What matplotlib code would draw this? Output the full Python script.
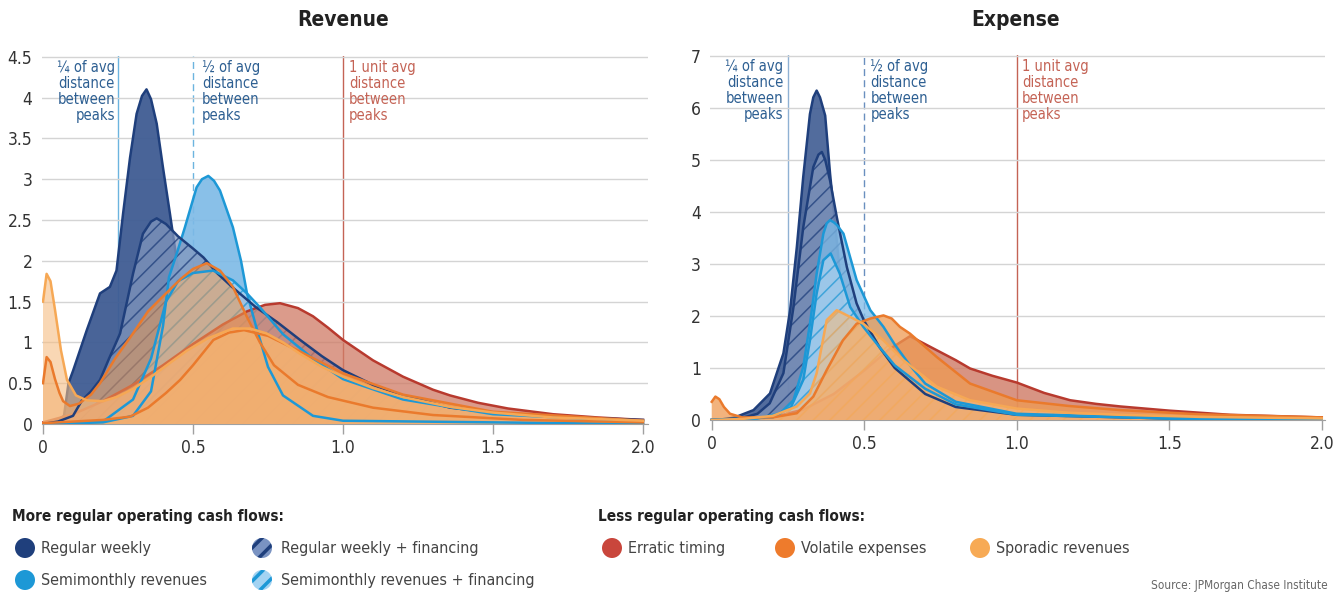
import matplotlib.pyplot as plt
from matplotlib import font_manager
from matplotlib.patches import Circle

# narrow font like the original; pick what is installed
_fonts = {(f.name, f.stretch) for f in font_manager.fontManager.ttflist}
_names = {n for n, s in _fonts}
if 'Liberation Sans Narrow' in _names:
    plt.rcParams['font.family'] = ['Liberation Sans Narrow', 'DejaVu Sans']
elif any(n == 'DejaVu Sans' and s == 'condensed' for n, s in _fonts):
    plt.rcParams['font.family'] = ['DejaVu Sans']
    plt.rcParams['font.stretch'] = 'condensed'
else:
    plt.rcParams['font.family'] = ['Roboto', 'DejaVu Sans']
plt.rcParams['hatch.linewidth'] = 1.1

# ---------------- Revenue panel ----------------
rev_weekly_x = [0.0, 0.04, 0.07, 0.085, 0.10, 0.146, 0.19, 0.223, 0.245, 0.267, 0.29, 0.312, 0.33,
                0.345, 0.36, 0.379, 0.40, 0.423, 0.45, 0.48, 0.52, 0.58, 0.65, 0.8, 1.0, 2.0]
rev_weekly_y = [0.0, 0.03, 0.1, 0.5, 0.65, 1.15, 1.6, 1.68, 1.88, 2.58, 3.26, 3.8, 4.02,
                4.1, 3.98, 3.68, 3.14, 2.58, 1.9, 1.25, 0.7, 0.35, 0.15, 0.05, 0.02, 0.0]

rev_weekly_fin_x = [0.0, 0.05, 0.1, 0.13, 0.16, 0.19, 0.22, 0.257, 0.28, 0.30, 0.333, 0.36, 0.379,
                    0.41, 0.45, 0.5, 0.535, 0.58, 0.63, 0.71, 0.78, 0.857, 0.93, 1.0, 1.1, 1.2,
                    1.357, 1.5, 1.7, 2.0]
rev_weekly_fin_y = [0.0, 0.03, 0.1, 0.29, 0.4, 0.54, 0.8, 1.11, 1.5, 1.84, 2.33, 2.48, 2.52,
                    2.45, 2.3, 2.15, 2.04, 1.85, 1.68, 1.43, 1.25, 1.03, 0.83, 0.66, 0.48, 0.35,
                    0.2, 0.14, 0.09, 0.05]

rev_semi_x = [0.0, 0.2, 0.3, 0.36, 0.40, 0.42, 0.446, 0.473, 0.512, 0.53, 0.551, 0.57, 0.59, 0.633,
              0.66, 0.68, 0.71, 0.75, 0.8, 0.9, 1.0, 2.0]
rev_semi_y = [0.0, 0.02, 0.1, 0.4, 1.2, 1.8, 2.09, 2.41, 2.9, 3.0, 3.04, 2.98, 2.86, 2.41,
              2.0, 1.6, 1.2, 0.7, 0.35, 0.1, 0.04, 0.0]

rev_semi_fin_x = [0.0, 0.2, 0.3, 0.36, 0.41, 0.45, 0.5, 0.567, 0.633, 0.68, 0.723, 0.8, 0.9, 1.0,
                  1.2, 1.5, 2.0]
rev_semi_fin_y = [0.0, 0.03, 0.3, 0.8, 1.5, 1.75, 1.85, 1.88, 1.76, 1.6, 1.43, 1.1, 0.8, 0.55,
                  0.3, 0.12, 0.03]

rev_erratic_x = [0.0, 0.1, 0.2, 0.3, 0.4, 0.5, 0.6, 0.68, 0.74, 0.79, 0.85, 0.9, 0.95, 1.0, 1.1,
                 1.2, 1.3, 1.357, 1.45, 1.55, 1.7, 1.85, 2.0]
rev_erratic_y = [0.02, 0.12, 0.28, 0.48, 0.72, 0.98, 1.22, 1.38, 1.46, 1.48, 1.42, 1.32, 1.18, 1.03,
                 0.78, 0.58, 0.42, 0.35, 0.26, 0.19, 0.12, 0.08, 0.05]

rev_volatile_x = [0.0, 0.012, 0.025, 0.04, 0.055, 0.067, 0.09, 0.12, 0.16, 0.19, 0.24, 0.3, 0.35,
                  0.41, 0.46, 0.5, 0.546, 0.59, 0.633, 0.68, 0.723, 0.77, 0.85, 0.95, 1.1, 1.3,
                  1.6, 2.0]
rev_volatile_y = [0.5, 0.82, 0.76, 0.55, 0.38, 0.28, 0.22, 0.25, 0.36, 0.5, 0.8, 1.11, 1.38,
                  1.6, 1.78, 1.9, 1.97, 1.88, 1.68, 1.31, 1.0, 0.72, 0.48, 0.33, 0.2, 0.11,
                  0.05, 0.02]

rev_sporadic_x = [0.0, 0.012, 0.025, 0.04, 0.06, 0.08, 0.11, 0.146, 0.2, 0.245, 0.3, 0.357, 0.42,
                  0.48, 0.55, 0.633, 0.69, 0.745, 0.8, 0.857, 0.93, 1.0, 1.1, 1.2, 1.357, 1.5,
                  1.7, 2.0]
rev_sporadic_y = [1.5, 1.84, 1.75, 1.4, 0.9, 0.54, 0.35, 0.29, 0.28, 0.33, 0.43, 0.57, 0.74,
                  0.9, 1.05, 1.17, 1.17, 1.11, 1.0, 0.86, 0.7, 0.58, 0.44, 0.33, 0.21, 0.14,
                  0.08, 0.04]

# unlabelled orange band at the bottom of the revenue panel
rev_orange_base_x = [0.0, 0.1, 0.2, 0.29, 0.35, 0.41, 0.457, 0.5, 0.568, 0.62, 0.67, 0.75, 0.85,
                     1.0, 1.2, 1.5, 2.0]
rev_orange_base_y = [0.01, 0.03, 0.05, 0.09, 0.2, 0.38, 0.54, 0.72, 1.03, 1.12, 1.15, 1.08, 0.9,
                     0.62, 0.36, 0.15, 0.04]

# ---------------- Expense panel ----------------
exp_weekly_x = [0.0, 0.05, 0.08, 0.137, 0.191, 0.235, 0.257, 0.279, 0.30, 0.322, 0.333, 0.344,
                0.355, 0.372, 0.388, 0.41, 0.43, 0.46, 0.5, 0.55, 0.62, 0.7, 0.85, 1.0, 2.0]
exp_weekly_y = [0.0, 0.02, 0.06, 0.19, 0.51, 1.28, 2.11, 3.32, 4.67, 5.88, 6.2, 6.33,
                6.2, 5.85, 4.73, 3.45, 2.17, 1.4, 0.8, 0.45, 0.22, 0.1, 0.04, 0.02, 0.0]

exp_weekly_fin_x = [0.0, 0.1, 0.15, 0.19, 0.235, 0.268, 0.30, 0.333, 0.35, 0.361, 0.372, 0.388,
                    0.41, 0.443, 0.475, 0.5, 0.55, 0.6, 0.7, 0.8, 1.0, 1.5, 2.0]
exp_weekly_fin_y = [0.0, 0.04, 0.12, 0.32, 0.9, 2.17, 3.7, 4.86, 5.1, 5.15, 5.0, 4.6,
                    3.9, 2.94, 2.24, 1.9, 1.4, 1.0, 0.5, 0.25, 0.1, 0.03, 0.01]

exp_semi_x = [0.0, 0.15, 0.224, 0.268, 0.30, 0.322, 0.344, 0.366, 0.377, 0.388, 0.40, 0.41, 0.432,
              0.475, 0.52, 0.563, 0.6, 0.65, 0.7, 0.8, 1.0, 1.5, 2.0]
exp_semi_y = [0.0, 0.03, 0.13, 0.38, 1.02, 1.85, 2.81, 3.58, 3.78, 3.84, 3.8, 3.75, 3.58,
              2.69, 2.11, 1.79, 1.45, 1.05, 0.7, 0.35, 0.12, 0.03, 0.01]

exp_semi_fin_x = [0.0, 0.2, 0.26, 0.30, 0.322, 0.344, 0.366, 0.39, 0.42, 0.454, 0.497, 0.55, 0.6,
                  0.7, 0.8, 1.0, 1.5, 2.0]
exp_semi_fin_y = [0.0, 0.05, 0.25, 0.77, 1.53, 2.43, 3.07, 3.2, 2.81, 2.17, 1.79, 1.4, 1.05,
                  0.6, 0.3, 0.1, 0.03, 0.01]

exp_erratic_x = [0.0, 0.1, 0.2, 0.3, 0.4, 0.5, 0.58, 0.65, 0.738, 0.8, 0.847, 0.92, 1.0, 1.09,
                 1.175, 1.26, 1.34, 1.5, 1.7, 2.0]
exp_erratic_y = [0.0, 0.01, 0.05, 0.2, 0.5, 0.95, 1.35, 1.61, 1.34, 1.15, 0.99, 0.85, 0.72, 0.52,
                 0.38, 0.31, 0.26, 0.18, 0.1, 0.05]

exp_volatile_x = [0.0, 0.012, 0.025, 0.04, 0.06, 0.1, 0.2, 0.279, 0.333, 0.377, 0.43, 0.475, 0.52,
                  0.563, 0.59, 0.617, 0.65, 0.738, 0.847, 1.0, 1.17, 1.34, 1.6, 2.0]
exp_volatile_y = [0.35, 0.45, 0.4, 0.25, 0.12, 0.05, 0.05, 0.13, 0.45, 0.96, 1.53, 1.85, 1.95,
                  2.01, 1.95, 1.79, 1.66, 1.21, 0.7, 0.38, 0.27, 0.19, 0.11, 0.05]

exp_sporadic_x = [0.0, 0.1, 0.2, 0.279, 0.322, 0.344, 0.377, 0.41, 0.454, 0.497, 0.563, 0.628,
                  0.738, 0.847, 1.0, 1.17, 1.34, 1.6, 2.0]
exp_sporadic_y = [0.0, 0.02, 0.08, 0.26, 0.51, 0.9, 1.92, 2.11, 1.98, 1.85, 1.53, 1.15,
                  0.64, 0.38, 0.22, 0.14, 0.1, 0.06, 0.03]

x_ticks = [0, 0.5, 1.0, 1.5, 2.0]
x_tick_labels = ['0', '0.5', '1.0', '1.5', '2.0']
rev_y_ticks = [0, 0.5, 1, 1.5, 2, 2.5, 3, 3.5, 4, 4.5]
rev_y_labels = ['0', '0.5', '1', '1.5', '2', '2.5', '3', '3.5', '4', '4.5']
exp_y_ticks = [0, 1, 2, 3, 4, 5, 6, 7]
exp_y_labels = ['0', '1', '2', '3', '4', '5', '6', '7']
marker_x = [0.25, 0.5, 1.0]
marker_texts = ['\u00bc of avg\ndistance\nbetween\npeaks',
                '\u00bd of avg\ndistance\nbetween\npeaks',
                '1 unit avg\ndistance\nbetween\npeaks']

# colours
NAVY = '#1f3f7c'
NAVY_FILL = '#3f5c93'
NAVY_HATCH_FILL = '#8196bd'
BLUE = '#1d98d6'
BLUE_FILL = '#7cb9e6'
BLUE_HATCH_FILL = '#abd3f0'
RED = '#b83a2e'
RED_FILL = '#cf7a64'
ORANGE = '#ea7a2c'
ORANGE_FILL = '#ee9a52'
LORANGE = '#f6a855'
LORANGE_FILL = '#f6bd82'
GRID = '#d4d4d4'


def draw_curve(ax, x, y, face, edge, z, hatch=None, alpha=0.85, lw=1.8, line_low=False):
    if hatch:
        ax.fill_between(x, y, 0, facecolor=face, edgecolor=edge, hatch=hatch,
                        linewidth=0, alpha=alpha, zorder=z)
    else:
        ax.fill_between(x, y, 0, facecolor=face, linewidth=0, alpha=alpha, zorder=z)
    # some outlines sit under the later fills, as in the original
    lz = z + 0.5 if line_low else z + 20
    ax.plot(x, y, color=edge, lw=lw, zorder=lz, solid_joinstyle='round')


def style_axes(ax, yticks, ylabels, xmax):
    ax.set_xlim(-0.005, xmax)
    ax.set_ylim(0, yticks[-1] * 1.002)
    ax.set_xticks(x_ticks)
    ax.set_xticklabels(x_tick_labels)
    ax.set_yticks(yticks)
    ax.set_yticklabels(ylabels)
    ax.grid(axis='y', color=GRID, lw=1)
    ax.set_axisbelow(True)
    for s in ['top', 'right', 'left']:
        ax.spines[s].set_visible(False)
    ax.spines['bottom'].set_color('#a0a0a0')
    ax.tick_params(axis='y', length=0, pad=6.5, labelsize=12.5, labelcolor='#333333')
    ax.tick_params(axis='x', length=7, width=1, color='#a0a0a0', pad=4, labelsize=12.5,
                   labelcolor='#333333')


def draw_markers(ax, ytop, colors, dashed, offsets):
    for i, xv in enumerate(marker_x):
        ax.axvline(xv, color=colors[i], lw=1, ls=(0, (5, 3)) if dashed[i] else '-', zorder=0.5)
        ha = 'right' if i == 0 else 'left'
        ax.text(xv + offsets[i], ytop, marker_texts[i], ha=ha, va='top', fontsize=10.5,
                color=colors[i] if i == 2 else '#2d5f92', linespacing=1.08, zorder=0.6)


fig = plt.figure(figsize=(13.44, 5.93), dpi=100)

# ---- Revenue ----
ax1 = fig.add_axes([41.5 / 1344, 169 / 593, 606 / 1344, 368 / 593])
draw_curve(ax1, rev_weekly_x, rev_weekly_y, NAVY_FILL, NAVY, 1, alpha=0.95, line_low=True)
draw_curve(ax1, rev_semi_x, rev_semi_y, BLUE_FILL, BLUE, 2, alpha=0.9)
draw_curve(ax1, rev_weekly_fin_x, rev_weekly_fin_y, NAVY_HATCH_FILL, NAVY, 3, hatch='//', alpha=0.75)
draw_curve(ax1, rev_semi_fin_x, rev_semi_fin_y, BLUE_HATCH_FILL, BLUE, 4, hatch='//', alpha=0.7)
draw_curve(ax1, rev_erratic_x, rev_erratic_y, RED_FILL, RED, 5, alpha=0.75, line_low=True)
draw_curve(ax1, rev_orange_base_x, rev_orange_base_y, ORANGE_FILL, ORANGE, 6, alpha=0.8)
draw_curve(ax1, rev_volatile_x, rev_volatile_y, ORANGE_FILL, ORANGE, 7, alpha=0.55)
draw_curve(ax1, rev_sporadic_x, rev_sporadic_y, LORANGE_FILL, LORANGE, 8, alpha=0.6)
style_axes(ax1, rev_y_ticks, rev_y_labels, 2.015)
draw_markers(ax1, 4.46, ['#6cb4df', '#6cb4df', '#c46355'], [False, True, False], [-0.01, 0.03, 0.02])

# ---- Expense ----
ax2 = fig.add_axes([710.2 / 1344, 173 / 593, 614.6 / 1344, 365 / 593])
draw_curve(ax2, exp_weekly_x, exp_weekly_y, NAVY_FILL, NAVY, 1, alpha=0.9, line_low=True)
draw_curve(ax2, exp_weekly_fin_x, exp_weekly_fin_y, NAVY_HATCH_FILL, NAVY, 2, hatch='//', alpha=0.75)
draw_curve(ax2, exp_semi_x, exp_semi_y, BLUE_FILL, BLUE, 3, alpha=0.75)
draw_curve(ax2, exp_semi_fin_x, exp_semi_fin_y, BLUE_HATCH_FILL, BLUE, 4, hatch='//', alpha=0.7)
draw_curve(ax2, exp_erratic_x, exp_erratic_y, RED_FILL, RED, 5, alpha=0.8, line_low=True)
draw_curve(ax2, exp_volatile_x, exp_volatile_y, ORANGE_FILL, ORANGE, 6, alpha=0.75)
draw_curve(ax2, exp_sporadic_x, exp_sporadic_y, LORANGE_FILL, LORANGE, 7, hatch='//', alpha=0.6)
style_axes(ax2, exp_y_ticks, exp_y_labels, 2.01)
draw_markers(ax2, 6.93, ['#8fb1d3', '#6a8fbf', '#c46355'], [False, True, False], [-0.015, 0.02, 0.017])

# ---- titles, legend, source (pixel coordinates overlay) ----
ov = fig.add_axes([0, 0, 1, 1])
ov.set_xlim(0, 1344)
ov.set_ylim(593, 0)
ov.axis('off')

ov.text(343, 20, 'Revenue', ha='center', va='center', fontsize=15, weight='bold', color='#222222')
ov.text(1016, 20, 'Expense', ha='center', va='center', fontsize=15, weight='bold', color='#222222')

ov.text(12, 517, 'More regular operating cash flows:', ha='left', va='center', fontsize=11,
        weight='bold', color='#222222')
ov.text(598, 517, 'Less regular operating cash flows:', ha='left', va='center', fontsize=11,
        weight='bold', color='#222222')

legend_items = [
    (25, 548, 'Regular weekly', NAVY, None, None),
    (25, 580, 'Semimonthly revenues', BLUE, None, None),
    (262, 548, 'Regular weekly + financing', '#7a93c2', NAVY, '//'),
    (262, 580, 'Semimonthly revenues + financing', '#a3d3f2', BLUE, '//'),
    (612, 548, 'Erratic timing', '#c9463c', None, None),
    (785, 548, 'Volatile expenses', '#ee7b2c', None, None),
    (980, 548, 'Sporadic revenues', '#f7aa55', None, None),
]
for cx, cy, label, face, hcol, hatch in legend_items:
    if hatch:
        c = Circle((cx, cy), 10, facecolor=face, edgecolor=hcol, hatch=hatch, linewidth=0)
        if hasattr(c, 'set_hatch_linewidth'):
            c.set_hatch_linewidth(2.5)
        gap = 19
    else:
        c = Circle((cx, cy), 10, facecolor=face, linewidth=0)
        gap = 16
    ov.add_patch(c)
    ov.text(cx + gap, cy, label, ha='left', va='center', fontsize=11.5, color='#444444')

ov.text(1328, 585, 'Source: JPMorgan Chase Institute', ha='right', va='center', fontsize=8.5,
        color='#666666')

fig.savefig('out.png', dpi=100)
